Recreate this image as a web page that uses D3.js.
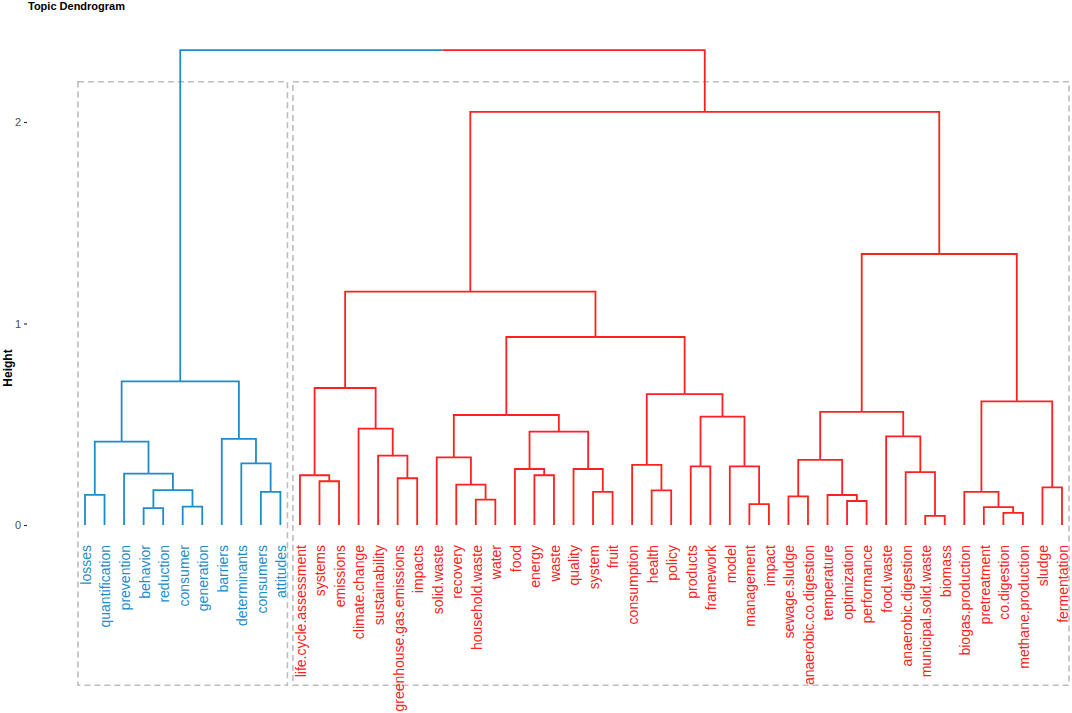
<!DOCTYPE html>
<html lang="en">
<head>
  <meta charset="UTF-8">
  <title>Topic Dendrogram</title>
  <style>
    body { margin: 0; background: #fff; }
    svg { display: block; font-family: "Liberation Sans", Arial, sans-serif; }
    .titulo { font-size: 11px; font-weight: bold; fill: #000; }
    .eixo-y { font-size: 12px; font-weight: bold; fill: #000; }
    .eixo text { font-size: 11px; fill: #4d4d4d; font-family: "Liberation Sans", Arial, sans-serif; }
    .eixo line { stroke: #333; stroke-width: 1.2; }
    .ramo { fill: none; stroke-width: 1.8; }
    .caixa { fill: none; stroke: #bdbdbd; stroke-width: 1.6; stroke-dasharray: 6 4; }
    .folha { font-size: 14px; text-anchor: end; }
  </style>
</head>
<body>
  <svg id="grafico"></svg>

  <script src="https://d3js.org/d3.v7.min.js"></script>
  <script>
    // leaf labels, left to right
    const folhas = [
      'losses', 'quantification', 'prevention', 'behavior', 'reduction', 'consumer',
      'generation', 'barriers', 'determinants', 'consumers', 'attitudes',
      'life.cycle.assessment', 'systems', 'emissions', 'climate.change', 'sustainability',
      'greenhouse.gas.emissions', 'impacts', 'solid.waste', 'recovery', 'household.waste',
      'water', 'food', 'energy', 'waste', 'quality', 'system', 'fruit', 'consumption',
      'health', 'policy', 'products', 'framework', 'model', 'management', 'impact',
      'sewage.sludge', 'anaerobic.co.digestion', 'temperature', 'optimization',
      'performance', 'food.waste', 'anaerobic.digestion', 'municipal.solid.waste',
      'biomass', 'biogas.production', 'pretreatment', 'co.digestion',
      'methane.production', 'sludge', 'fermentation'
    ];

    // hclust-style merge table: negative = leaf (1-based), positive = earlier merge
    const fusoes = [
      [-44, -45], [-48, -49], [-4, -5], [-47, 2], [-6, -7],
      [-35, -36], [-40, -41], [-21, -22], [-37, -38], [-39, 7],
      [-1, -2], [-10, -11], [-27, -28], [-46, 4], [-30, -31],
      [3, 5], [-50, -51], [-20, 8], [-13, -14], [-17, -18],
      [-12, 19], [-24, -25], [-3, 16], [-43, 1], [-23, 22],
      [-26, 13], [-32, -33], [-34, 6], [-29, 15], [-9, 12],
      [9, 10], [-19, 18], [-16, 20], [11, 23], [-8, 30],
      [-42, 24], [25, 26], [-15, 33], [27, 28], [32, 37],
      [31, 36], [14, 17], [29, 39], [21, 38], [34, 35],
      [40, 43], [44, 46], [41, 42], [47, 48], [45, 49]
    ];
    const alturas = [
      0.045, 0.060, 0.084, 0.089, 0.091,
      0.104, 0.119, 0.126, 0.142, 0.149,
      0.150, 0.164, 0.164, 0.164, 0.172,
      0.173, 0.187, 0.200, 0.217, 0.232,
      0.247, 0.247, 0.255, 0.262, 0.278,
      0.278, 0.291, 0.291, 0.298, 0.306,
      0.323, 0.336, 0.344, 0.414, 0.427,
      0.440, 0.463, 0.478, 0.538, 0.546,
      0.561, 0.614, 0.650, 0.680, 0.713,
      0.933, 1.158, 1.345, 2.050, 2.357
    ];

    // number of leaves in each cluster (k = 2) and their colours
    const gruposTamanho = [11, 40];
    const cores = ['#1c8dcb', '#ff2020'];
    const ticksY = [0, 1, 2];

    function executa() {
      const largura = 1072;
      const altura = 713;
      const svg = d3.select('#grafico').attr('width', largura).attr('height', altura);

      const x = d3.scaleLinear().domain([1, folhas.length]).range([85, 1062]);
      const y = d3.scaleLinear().domain([0, 2]).range([525, 122]);

      // grupo de cada folha
      const grupoDe = [];
      gruposTamanho.forEach((n, g) => { for (let i = 0; i < n; i++) grupoDe.push(g); });

      // monta a arvore a partir da tabela de fusoes
      const nos = [];
      const pega = r => r < 0
        ? { name: folhas[-r - 1], ordem: -r, h: 0, grupo: grupoDe[-r - 1] }
        : nos[r - 1];
      fusoes.forEach((f, i) => {
        const a = pega(f[0]), b = pega(f[1]);
        nos.push({ children: [a, b], h: alturas[i], grupo: a.grupo === b.grupo ? a.grupo : -1 });
      });
      const raiz = d3.hierarchy(nos[nos.length - 1]);

      raiz.eachAfter(d => {
        d.px = d.children ? (d.children[0].px + d.children[1].px) / 2 : x(d.data.ordem);
      });

      // caixas tracejadas dos grupos
      let inicio = 1;
      const caixas = gruposTamanho.map(n => {
        const c = { a: inicio, b: inicio + n - 1 };
        inicio += n;
        return c;
      });
      const folga = 0.36;
      svg.selectAll('.caixa')
        .data(caixas)
        .enter()
        .append('rect')
        .classed('caixa', true)
        .attr('x', d => x(d.a - folga))
        .attr('y', y(2.2))
        .attr('width', d => x(d.b + folga) - x(d.a - folga))
        .attr('height', y(-0.795) - y(2.2));

      // ramos
      svg.selectAll('.ramo')
        .data(raiz.descendants().filter(d => d.parent))
        .enter()
        .append('path')
        .classed('ramo', true)
        .attr('stroke', d => cores[d.data.grupo])
        .attr('d', d => `M${d.px},${y(d.data.h)}V${y(d.parent.data.h)}H${d.parent.px}`);

      // rotulos das folhas
      svg.selectAll('.folha')
        .data(raiz.leaves())
        .enter()
        .append('text')
        .classed('folha', true)
        .attr('fill', d => cores[d.data.grupo])
        .attr('transform', d => `translate(${d.px},545) rotate(-90)`)
        .attr('dy', '0.42em')
        .text(d => d.data.name);

      // eixo y
      const eixo = svg.append('g')
        .classed('eixo', true)
        .attr('transform', 'translate(27,0)')
        .call(d3.axisLeft(y).tickValues(ticksY).tickSize(3).tickPadding(3).tickFormat(d3.format('d')));
      eixo.select('.domain').remove();

      svg.append('text')
        .classed('eixo-y', true)
        .attr('transform', 'translate(12,368) rotate(-90)')
        .attr('text-anchor', 'middle')
        .text('Height');

      svg.append('text')
        .classed('titulo', true)
        .attr('x', 28)
        .attr('y', 10)
        .text('Topic Dendrogram');
    }

    executa();
  </script>
</body>
</html>
